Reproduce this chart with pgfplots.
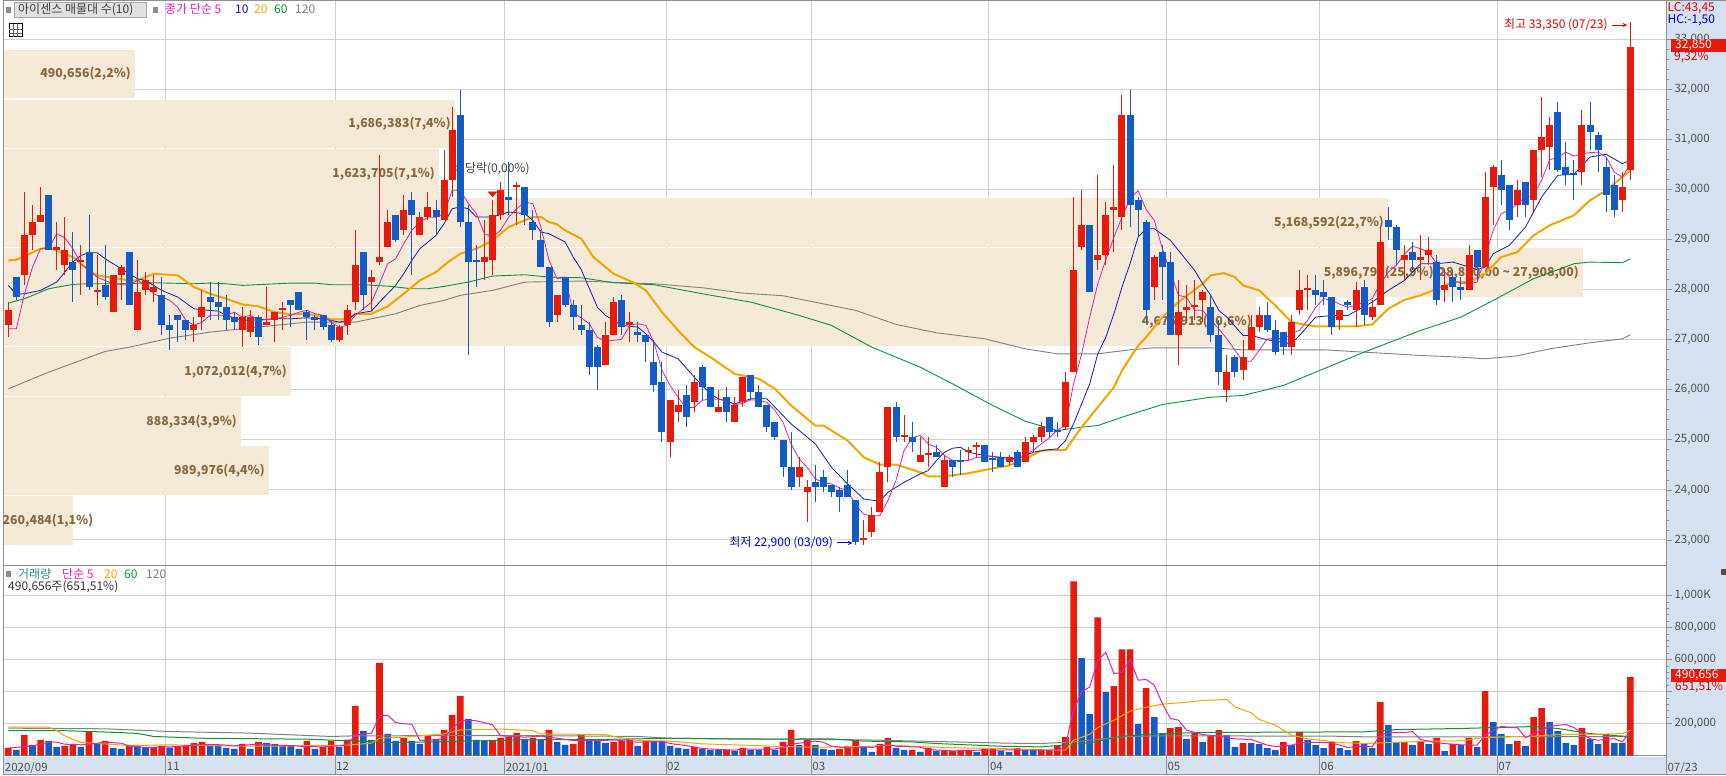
\documentclass[border=0pt]{standalone}
\usepackage{fontspec}
\setmainfont{Noto Sans CJK KR}
\usepackage{pgfplots}
\usepackage{pgfplotstable}
\pgfplotsset{compat=1.18}

\definecolor{upc}{HTML}{E81A0C}
\definecolor{dnc}{HTML}{135CC8}
\definecolor{bandc}{HTML}{F5E9D7}
\definecolor{bandtxt}{HTML}{8A6A3C}
\definecolor{gridc}{HTML}{D2D2D2}
\definecolor{framec}{HTML}{909090}
\definecolor{stripc}{HTML}{D6E1EF}
\definecolor{labc}{HTML}{505050}
\definecolor{ma5}{HTML}{E020B8}
\definecolor{ma10}{HTML}{1020A8}
\definecolor{ma20}{HTML}{F0A800}
\definecolor{ma60}{HTML}{109038}
\definecolor{ma120}{HTML}{808080}
\definecolor{tealc}{HTML}{2A9090}

% candles: index open high low close
\pgfplotstableread{
i o h l c
0 27300 27750 27050 27600
2 28300 29950 28100 29100
3 29100 29700 28800 29350
4 29350 30050 29350 29500
6 28800 29350 28400 28850
7 28500 29450 28300 28800
9 28550 28900 27900 28550
11 27950 28700 27700 28000
13 27550 28300 27550 28300
14 28300 28500 27800 28450
16 27200 28600 27200 27950
17 28000 28350 27900 28200
18 27950 28300 27750 28050
23 27200 27450 26950 27300
24 27450 28000 27200 27650
29 27200 27650 26850 27450
30 27150 27600 27050 27450
32 27300 28050 27300 27350
33 27400 27550 26950 27550
34 27600 27750 27200 27600
41 27000 27300 26950 27250
42 27300 27700 27100 27600
43 27750 29200 27600 28500
45 28150 28400 27600 28250
46 28550 30700 28500 28650
47 28850 29600 28850 29350
49 29200 29900 29100 29600
51 29100 29550 29100 29450
52 29450 29950 29400 29650
54 29400 30800 29400 30200
55 30200 31650 29850 31200
59 28550 29400 28200 28650
60 28600 29800 28300 29500
61 29500 30150 29400 30000
63 30050 30150 29300 30050
68 27500 27900 27350 27900
74 26500 27350 26500 27100
75 27100 27850 27100 27750
77 27300 27550 26950 27350
82 24950 25800 24650 25800
83 25550 26000 25350 25700
85 25750 26300 25550 26150
88 25550 26000 25550 25650
90 25350 25850 25350 25700
91 25750 26250 25650 26250
98 24250 24650 24050 24450
99 23950 24200 23350 24050
106 23000 23400 22900 23000
107 23150 23650 23050 23500
108 23550 24550 23550 24350
109 24450 25650 24150 25650
111 25050 25500 24950 25050
113 24550 25050 24550 24700
114 24700 25050 24450 24700
116 24050 24700 24050 24600
119 24750 24850 24600 24750
120 24850 24950 24650 24850
124 24550 24700 24500 24650
126 24550 25050 24550 24950
127 24950 25100 24750 25050
128 25050 25350 24950 25250
131 25250 26350 25200 26150
132 26350 29850 26350 28400
133 28850 30000 28800 29300
135 28600 30300 28400 28700
136 28700 29750 28500 29500
137 29600 30500 28750 29650
138 29450 31900 29200 31500
142 28050 28700 27800 28650
145 27100 28200 26500 27550
146 27600 28100 27400 27650
147 27650 28200 27400 27650
148 27800 28000 27350 27950
151 26000 26700 25750 26350
153 26400 27000 26200 26650
154 26800 27500 26800 27250
155 27250 27650 27150 27500
159 26850 27500 26700 27350
160 27600 28400 27500 28000
161 28000 28300 27600 28000
165 27400 27600 27200 27600
167 27600 28150 27250 28000
169 27450 27800 27400 27650
170 27700 29250 27700 28950
173 28600 28900 28200 28700
175 28600 29100 28200 28650
176 28700 29050 28500 28800
178 28000 28400 27750 28100
181 28000 28900 28000 28700
183 28450 30350 28450 29850
184 30050 30500 29300 30450
187 29700 30200 29450 30000
189 29800 30800 29550 30800
190 30800 31850 30250 31050
191 30850 31450 30400 31300
195 30350 31600 30100 31300
200 29800 30350 29550 30050
201 30400 33350 30200 32850
}\upcandles

\pgfplotstableread{
i o h l c
1 28250 28250 27800 27850
5 29900 29900 28800 28800
8 28550 29150 27750 28400
10 28750 29500 28000 28050
12 28100 28900 27800 27850
15 28750 28750 27700 27700
19 27900 28250 27100 27300
20 27300 27500 26800 27200
21 27500 27500 26950 27400
22 27400 27400 27000 27200
25 27850 28150 27400 27750
26 27750 28150 27400 27650
27 27650 27900 27200 27400
28 27450 27550 27200 27350
31 27450 27500 26900 27050
35 27800 27800 27250 27700
36 27950 27950 27600 27600
37 27550 27600 27000 27450
38 27450 27500 27200 27400
39 27500 27500 27200 27250
40 27300 27400 26950 27000
44 28750 28750 27600 27900
48 29500 29500 28950 29000
50 29800 29950 28300 29500
53 29600 29800 29100 29450
56 31500 32000 29250 29350
57 29350 29700 26700 28550
58 28550 28900 28050 28550
62 29850 30550 29500 29800
64 30050 30050 29300 29500
65 29350 29600 29000 29200
66 29000 29200 28450 28450
67 28450 28450 27250 27350
69 28250 28250 27650 27700
70 27700 27800 27200 27450
71 27300 27700 27100 27200
72 27200 27350 26300 26450
73 26850 26900 26000 26450
76 27800 27900 27100 27250
78 27150 27350 26950 27100
79 27100 27100 26550 26950
80 26550 27000 25950 26100
81 26150 26550 24950 25150
84 25900 26100 25250 25450
86 26450 26500 25800 26050
87 26050 26050 25650 25650
89 25850 26050 25350 25550
92 26300 26300 25800 25950
93 25950 26100 25650 25650
94 25700 25700 25150 25250
95 25350 25350 25000 25050
96 25000 25000 24250 24450
97 24450 25150 24000 24050
100 24150 24500 23750 24050
101 24250 24400 23950 24050
102 24100 24100 23850 23950
103 24000 24050 23550 23850
104 24100 24400 23850 23850
105 23800 23800 22900 22950
110 25650 25750 24950 25050
112 25050 25350 24750 24950
115 24750 24900 24650 24650
117 24600 24600 24250 24450
118 24600 24800 24300 24550
121 24900 24900 24550 24550
122 24600 24750 24350 24600
123 24650 24750 24450 24450
125 24750 24800 24450 24450
129 25450 25450 25050 25150
130 25150 25350 25050 25150
134 29300 29300 27950 27950
139 31500 32000 29250 29700
140 29800 29850 29050 29600
141 29350 29400 27350 27600
143 28750 28900 27800 28450
144 28550 28750 27100 27100
149 27650 27900 26950 27100
150 27100 27400 26100 26350
152 26650 26700 26250 26350
156 27500 27750 27150 27200
157 27200 27400 26700 26750
158 27150 27150 26700 26850
162 28000 28300 27700 27900
163 27950 28200 27700 27850
164 27850 27850 27100 27250
166 27750 27800 27600 27700
168 28050 28200 27300 27500
171 29400 29650 29000 29250
172 29250 29300 28500 28800
174 28750 28950 28400 28600
177 28550 28700 27700 27800
179 28250 28400 27750 28050
180 28050 28250 27800 28000
182 28800 28800 28200 28450
185 30300 30600 29700 30000
186 30100 30100 29200 29400
188 30150 30150 29450 29700
192 31550 31750 30350 30400
193 30450 30950 30100 30300
194 30300 30600 29800 30300
196 31300 31750 30800 31150
197 31100 31150 30350 30800
198 30450 30650 29550 29900
199 30100 30300 29450 29600
}\dncandles

% volume bars
\pgfplotstableread{
i v
0 48000
2 129000
4 98000
7 60000
8 67000
10 150000
12 92000
15 60000
18 52000
19 60000
21 52000
22 65000
23 79000
24 85000
29 73000
31 85000
37 92000
39 54000
40 92000
42 100000
43 310000
46 579000
49 110000
52 123000
54 160000
55 254000
56 373000
60 98000
61 110000
62 117000
63 142000
65 110000
67 160000
70 73000
71 129000
75 85000
76 92000
77 104000
79 92000
85 54000
89 35000
91 48000
94 54000
96 85000
97 160000
99 98000
103 42000
104 60000
105 98000
108 73000
109 110000
112 35000
114 48000
116 29000
117 27000
118 35000
119 35000
121 42000
122 42000
125 46000
128 33000
129 33000
130 65000
131 115000
132 1089000
135 864000
137 433000
138 664000
139 664000
141 421000
144 171000
145 177000
147 142000
149 123000
150 158000
153 77000
158 83000
160 148000
164 83000
167 90000
170 333000
173 83000
175 83000
177 110000
179 71000
181 110000
183 402000
187 90000
189 240000
190 296000
195 171000
198 133000
201 490656
}\upvol

\pgfplotstableread{
i v
1 35000
3 67000
5 92000
6 54000
9 54000
11 77000
13 48000
14 42000
16 67000
17 46000
20 50000
25 65000
26 65000
27 48000
28 42000
30 42000
32 79000
33 73000
34 65000
35 65000
36 42000
38 42000
41 54000
44 154000
45 98000
47 135000
48 92000
50 92000
51 73000
53 104000
57 229000
58 98000
59 94000
64 104000
66 102000
68 85000
69 67000
72 98000
73 90000
74 79000
78 60000
80 92000
81 90000
82 60000
83 48000
84 42000
86 42000
87 35000
88 35000
90 29000
92 35000
93 35000
95 35000
98 67000
100 67000
101 42000
102 35000
106 54000
107 23000
110 48000
111 35000
113 23000
115 29000
120 23000
123 29000
124 23000
126 35000
127 35000
133 608000
134 258000
136 396000
140 196000
142 240000
143 135000
146 102000
148 83000
151 127000
152 52000
154 77000
155 71000
156 46000
157 33000
159 65000
161 96000
162 65000
163 46000
165 46000
166 33000
168 71000
169 46000
171 190000
172 83000
174 65000
176 71000
178 27000
180 65000
182 52000
184 208000
185 133000
186 71000
188 58000
191 208000
192 152000
193 77000
194 65000
196 102000
197 71000
199 77000
200 77000
}\dnvol

\tikzset{
  bandlab/.style={anchor=east, xshift=-4pt, color=bandtxt, font=\fontsize{12.3}{15}\selectfont\bfseries, inner sep=0pt},
}
\pgfplotsset{
  chartbase/.style={
    scale only axis,
    width=1662.7pt,
    xmin=-0.57, xmax=205.46,
    axis line style={color=framec, line width=1pt},
    clip mode=individual,
    xtick={-0.57,19.5,40.5,61.5,81.5,99.5,121.5,143.5,162.5,184.5,205.46},
    xmajorgrids, ymajorgrids,
    grid style={color=gridc, line width=1pt},
    ytick pos=right, yticklabel pos=right,
    tick align=outside,
    major tick length=6pt, minor tick length=3pt,
    minor y tick num=4,
    y tick style={color=framec, line width=.8pt},
    yticklabel style={color=labc, font=\fontsize{11.5}{14}\selectfont, inner sep=2pt,
      /pgf/number format/1000 sep={,}, /pgf/number format/assume math mode=true},
  },
  % only marks falls back to a default mark, so keep one of size zero
  nomark/.style={only marks, mark=*, mark size=0pt, mark options={draw=none, fill=none}},
  wick/.style={nomark, error bars/y dir=both, error bars/y explicit, error bars/error mark=none, error bars/error bar style={color=#1, line width=1pt}},
  body/.style={nomark, error bars/y dir=plus, error bars/y explicit, error bars/error mark=none, error bars/error bar style={color=#1, line width=7pt}},
}

\begin{document}
\begin{tikzpicture}[x=1pt,y=1pt]
\useasboundingbox (0,0) rectangle (1726,776);
\fill[white] (0,0) rectangle (1726,776);
\fill[stripc] (3.7,1) rectangle (1726,19);
\fill[stripc] (1666.4,1) rectangle (1726,775.5);
\draw[framec, line width=1pt] (3.7,1) -- (1726,1);
\draw[framec, line width=1pt] (3.7,775.5) -- (1726,775.5);

% price pane
\begin{axis}[chartbase,
    at={(3.7pt,210.5pt)}, anchor=south west,
    height=565pt,
    ymin=22490, ymax=33780,
    ytick={23000,24000,25000,26000,27000,28000,29000,30000,31000,32000,33000},
    xticklabels={},
    x tick style={draw=none},
    scaled y ticks=false,
]
% volume profile bands
\addplot[fill=bandc,draw=none] coordinates {(-0.53,31825)(15.7,31825)(15.7,32800)(-0.53,32800)} -- cycle;
\addplot[fill=bandc,draw=none] coordinates {(-0.53,30825)(55.35,30825)(55.35,31800)(-0.53,31800)} -- cycle;
\addplot[fill=bandc,draw=none] coordinates {(-0.53,29835)(53.37,29835)(53.37,30810)(-0.53,30810)} -- cycle;
\addplot[fill=bandc,draw=none] coordinates {(-0.53,28855)(170.97,28855)(170.97,29830)(-0.53,29830)} -- cycle;
\addplot[fill=bandc,draw=none] coordinates {(-0.53,27855)(195.13,27855)(195.13,28830)(-0.53,28830)} -- cycle;
\addplot[fill=bandc,draw=none] coordinates {(-0.53,26875)(154.6,26875)(154.6,27850)(-0.53,27850)} -- cycle;
\addplot[fill=bandc,draw=none] coordinates {(-0.53,25875)(35.03,25875)(35.03,26850)(-0.53,26850)} -- cycle;
\addplot[fill=bandc,draw=none] coordinates {(-0.53,24885)(28.84,24885)(28.84,25860)(-0.53,25860)} -- cycle;
\addplot[fill=bandc,draw=none] coordinates {(-0.53,23895)(32.3,23895)(32.3,24870)(-0.53,24870)} -- cycle;
\addplot[fill=bandc,draw=none] coordinates {(-0.53,22905)(8.02,22905)(8.02,23880)(-0.53,23880)} -- cycle;
\node[bandlab] at (axis cs:15.7,32312) {490,656(2,2\%)};
\node[bandlab] at (axis cs:55.35,31312) {1,686,383(7,4\%)};
\node[bandlab] at (axis cs:53.37,30322) {1,623,705(7,1\%)};
\node[bandlab] at (axis cs:170.97,29342) {5,168,592(22,7\%)};
\node[bandlab] at (axis cs:195.13,28342) {5,896,799(25,9\%)(28,890,00 \textasciitilde{} 27,908,00)};
\node[bandlab] at (axis cs:154.6,27362) {4,675,913(20,6\%)};
\node[bandlab] at (axis cs:35.03,26362) {1,072,012(4,7\%)};
\node[bandlab] at (axis cs:28.84,25372) {888,334(3,9\%)};
\node[bandlab] at (axis cs:32.3,24382) {989,976(4,4\%)};
\node[bandlab, anchor=west, xshift=0pt] at (axis cs:-0.22,23392) {260,484(1,1\%)};
\node[anchor=west, color=black!75, font=\fontsize{12}{14}\selectfont, inner sep=0pt] at (axis cs:55.2,30413) {배당락(0,00\%)};

% moving averages
\addplot[ma120, line width=.9pt] coordinates {(0,26020)(5,26353)(12,26767)(15,26853)(20,27033)(25,27153)(29,27220)(33,27287)(37,27353)(43,27353)(48,27520)(51,27687)(54,27787)(56,27887)(60,27987)(64,28153)(71,28173)(80,28120)(86,28040)(91,27933)(96,27880)(103,27653)(105,27587)(110,27307)(115,27140)(121,27020)(126,26820)(130,26720)(135,26720)(139,26800)(142,26840)(149,26840)(153,26800)(163,26800)(168,26753)(175,26687)(180,26653)(183,26620)(187,26680)(191,26820)(196,26940)(200,27020)(201,27100)};
\addplot[ma60, line width=.9pt] coordinates {(0,27733)(2,27820)(5,28020)(8,28107)(10,28120)(14,28120)(18,28140)(23,28120)(25,28133)(27,28120)(29,28087)(35,28133)(38,28133)(40,28100)(44,28100)(47,28073)(50,28020)(52,28020)(54,28067)(57,28153)(60,28273)(64,28300)(67,28253)(71,28240)(75,28140)(80,28100)(86,27920)(92,27753)(98,27487)(102,27287)(107,26853)(113,26453)(117,26120)(122,25687)(126,25373)(130,25187)(133,25253)(135,25287)(138,25453)(143,25707)(149,25853)(153,25887)(158,26087)(163,26420)(168,26753)(175,27187)(180,27453)(184,27787)(189,28220)(194,28520)(196,28553)(200,28540)(201,28620)};
\addplot[ma20, line width=2pt] coordinates {(0,28587)(1,28600)(4,28820)(5,28840)(7,28720)(8,28653)(10,28387)(11,28287)(15,28187)(16,28187)(17,28253)(18,28320)(21,28287)(23,28053)(25,27920)(27,27820)(29,27707)(31,27667)(33,27553)(35,27507)(37,27520)(39,27453)(40,27407)(42,27407)(43,27520)(45,27520)(47,27667)(49,27920)(51,28187)(53,28353)(54.5,28553)(56,28720)(58,28820)(60,28987)(62,29253)(64,29387)(65,29453)(66,29453)(67,29353)(68,29307)(69,29187)(71,29020)(72.5,28653)(75,28320)(77.5,28140)(79,27987)(81,27553)(83,27187)(85,26853)(87,26653)(90,26320)(93,26220)(95,26020)(97,25687)(100,25287)(101,25287)(104,24987)(106,24653)(108,24507)(110,24507)(113,24353)(114,24273)(116,24273)(119,24333)(121,24400)(124,24487)(126,24620)(128,24787)(131,24800)(133,25253)(135,25653)(137,26053)(138,26387)(140,26880)(141,27053)(143,27453)(145,27753)(148,28120)(149,28287)(150.6,28333)(152,28253)(153,28087)(155,27987)(157,27687)(159,27353)(160,27320)(162,27267)(164,27267)(167,27267)(169,27307)(171,27620)(173,27800)(175,27887)(177,28020)(179,28153)(181,28153)(183,28320)(185,28653)(187,28753)(189,29087)(191,29287)(194,29487)(196,29787)(198,29987)(200,30253)(201,30387)};
\addplot[ma10, line width=.8pt] coordinates {(0,28087)(1,27907)(2,27920)(4,27987)(6,28153)(7,28353)(8,28553)(9,28687)(10,28740)(11,28740)(12,28620)(14,28420)(15,28320)(16,28220)(17,28187)(18,28087)(19,27987)(21,27853)(23,27620)(24,27600)(26,27573)(27,27487)(29,27387)(31,27400)(33,27420)(35,27420)(37,27440)(39,27420)(40,27387)(41,27353)(42,27387)(43,27520)(45,27573)(46,27753)(47,27920)(48,28087)(49,28320)(50,28587)(51,28820)(53,29087)(54,29320)(55,29620)(56,29653)(57,29620)(58,29453)(60,29453)(62,29553)(64,29520)(65,29387)(66,29153)(67,29120)(69,28953)(70,28653)(71,28400)(73,27650)(74,27487)(76,27287)(78,27253)(79,27120)(80,26953)(81,26753)(83,26620)(85,26253)(87,25920)(88,25820)(90,25720)(92,25820)(94,25820)(95,25653)(97,25320)(100,24920)(102,24453)(104,24120)(106,23820)(108,23773)(109,23953)(111,24153)(113,24320)(114,24387)(115,24587)(116,24753)(117,24833)(118,24853)(119,24753)(121,24687)(123,24653)(125,24620)(127,24753)(129,24807)(130,24820)(131,24987)(132,25320)(133,25720)(134,26120)(135,26720)(136,27053)(137,27520)(138,28053)(139,28520)(140,29053)(141,29220)(142,29220)(144,28987)(146,28587)(147,28387)(148,28120)(149,27887)(150,27587)(151,27453)(153,27087)(154,27087)(156,27000)(159,26920)(160,27087)(162,27453)(164,27487)(166,27487)(169,27753)(171,27987)(173,28187)(175,28520)(177,28520)(179,28553)(181,28453)(182,28400)(183,28453)(184,28720)(186,28887)(188,29253)(190,29853)(192,30287)(194,30307)(196,30653)(198,30707)(200,30520)(201,30587)};
\addplot[ma5, line width=.8pt] coordinates {(0,27220)(1,27220)(2,27920)(3,28450)(4,28820)(5,28820)(6,29120)(7,29040)(8,28820)(9,28520)(10,28390)(11,28250)(13,28120)(15,28090)(16,28190)(17,28090)(18,27920)(20,27790)(21,27650)(22,27390)(23,27290)(24,27350)(25,27490)(27,27490)(28,27550)(29,27450)(30,27490)(31,27390)(33,27420)(34,27450)(35,27490)(36,27550)(37,27590)(38,27520)(39,27490)(40,27350)(41,27250)(42,27290)(43,27490)(44,27620)(45,27750)(46,28120)(47,28520)(48,28620)(49,28920)(50,29190)(51,29350)(52,29450)(53,29450)(54,29520)(55,29990)(56,29990)(57,29720)(58,29520)(59,29120)(60,29050)(61,29190)(62,29450)(63,29620)(64,29750)(65,29720)(66,29250)(67,28590)(68,28220)(69,28250)(70,27550)(72,27320)(73,27050)(74,26970)(76,27010)(77,27290)(78,27320)(79,27290)(80,26950)(81,26390)(82,26090)(83,25850)(84,25640)(85,25650)(86,25790)(87,25820)(89,25800)(90,25700)(91,25730)(92,25800)(93,25790)(94,25750)(95,25590)(96,25350)(97,24920)(98,24620)(99,24450)(100,24220)(101,24150)(102,24120)(103,24040)(104,23990)(105,23690)(106,23520)(107,23470)(108,23490)(109,23790)(110,24190)(111,24790)(112,25040)(113,25090)(114,24920)(115,24850)(116,24690)(117,24590)(119,24590)(120,24650)(122,24670)(123,24620)(124,24620)(125,24590)(126,24690)(127,24790)(128,24920)(129,25040)(130,25200)(131,25290)(132,26120)(133,26720)(134,27450)(135,28120)(136,28600)(137,29050)(138,29450)(139,29820)(140,29980)(141,29600)(142,29387)(143,28820)(144,28350)(145,27890)(146,27850)(147,27590)(148,27590)(149,27390)(150,27220)(151,27020)(152,26790)(153,26570)(154,26570)(155,26790)(156,27020)(158,27020)(159,27120)(160,27190)(161,27390)(162,27650)(163,27820)(164,27790)(165,27710)(166,27650)(167,27690)(168,27750)(169,27820)(170,28120)(171,28350)(172,28490)(173,28710)(174,28870)(175,28820)(176,28750)(177,28520)(178,28350)(179,28190)(180,28130)(181,28130)(182,28150)(183,28650)(184,29190)(185,29520)(186,29590)(187,29720)(188,29850)(189,29890)(190,30190)(191,30600)(192,30640)(193,30750)(194,30670)(195,30720)(196,30740)(197,30750)(198,30650)(199,30350)(200,30250)(201,30520)};

% candles
\addplot[wick=upc] table[x=i, y=o, y error plus expr={\thisrow{h}-\thisrow{o}}, y error minus expr={\thisrow{o}-\thisrow{l}}] {\upcandles};
\addplot[wick=dnc] table[x=i, y=c, y error plus expr={\thisrow{h}-\thisrow{c}}, y error minus expr={\thisrow{c}-\thisrow{l}}] {\dncandles};
\addplot[body=upc] table[x=i, y=o, y error plus expr={max(\thisrow{c}-\thisrow{o},40)}] {\upcandles};
\addplot[body=dnc] table[x=i, y=c, y error plus expr={max(\thisrow{o}-\thisrow{c},40)}] {\dncandles};

% ex-dividend marker and high/low notes
\addplot[only marks, mark=triangle*, mark size=5pt, mark options={fill=upc, draw=upc, rotate=180, yscale=.7}] coordinates {(60,29923)};
\node[anchor=east, color=red!90!black, font=\fontsize{12}{14}\selectfont, inner sep=0pt] at (axis cs:198.2,33290) {최고 33,350 (07/23)};
\draw[-stealth, color=red!90!black, line width=1pt] (axis cs:198.7,33290) -- (axis cs:200.6,33290);
\node[anchor=east, color=blue!90!black, font=\fontsize{12}{14}\selectfont, inner sep=0pt] at (axis cs:102.2,22940) {최저 22,900 (03/09)};
\draw[-stealth, color=blue!90!black, line width=1pt] (axis cs:102.7,22940) -- (axis cs:104.6,22940);
\end{axis}

% volume pane
\begin{axis}[chartbase,
    at={(3.7pt,20pt)}, anchor=south west,
    height=190.5pt,
    ymin=-3000, ymax=1187500,
    ytick={200000,400000,600000,800000,1000000},
    yticklabels={{200,000},{},{600,000},{800,000},{1,000K}},
    scaled y ticks=false,
    xticklabels={2020/09,11,12,2021/01,02,03,04,05,06,07,07/23},
    x tick style={color=framec, line width=1pt, /pgfplots/major tick length=19pt},
    xtick pos=bottom,
    xticklabel style={anchor=north west, color=labc, font=\fontsize{11.5}{14}\selectfont, inner sep=1pt, yshift=1pt},
]
\addplot[ybar, bar width=6.6pt, bar shift=0pt, fill=upc, draw=none] table[x=i, y=v] {\upvol};
\addplot[ybar, bar width=6.6pt, bar shift=0pt, fill=dnc, draw=none] table[x=i, y=v] {\dnvol};
\addplot[ma120, line width=1pt] coordinates {(0,171000)(12,167000)(20,150000)(30,140000)(40,119000)(43,123000)(64,125000)(78,119000)(82,108000)(106,98000)(124,77000)(128,75000)(132,85000)(138,117000)(142,123000)(164,121000)(168,117000)(176,117000)(183,117000)(201,119000)};
\addplot[ma60, line width=1pt] coordinates {(0,156000)(6.5,156000)(12.5,146000)(16,138000)(18,119000)(24,108000)(37,102000)(48,81000)(54,87000)(64,98000)(76,102000)(82,108000)(91,102000)(102,104000)(106,90000)(112,85000)(115,75000)(123,58000)(128,54000)(134,79000)(138,121000)(142,135000)(148,144000)(168,148000)(172,162000)(180,169000)(189,181000)(192,169000)(196,137000)(200,121000)(201,117000)};
\addplot[ma20, line width=1pt] coordinates {(0,177000)(5,177000)(6,156000)(7,123000)(9,81000)(12.5,71000)(15,62000)(20,67000)(24,62000)(32,58000)(42,65000)(45,77000)(46,108000)(49,115000)(54,135000)(56,160000)(61,165000)(65,156000)(66,135000)(74,131000)(75,119000)(78,94000)(82,90000)(86,73000)(91,65000)(96,56000)(100,52000)(106,56000)(109,65000)(116,50000)(124,42000)(129,35000)(131,33000)(132,96000)(134,133000)(135,175000)(137,221000)(139,277000)(141,302000)(143,321000)(146,333000)(148,344000)(151,350000)(152,304000)(154,267000)(155,225000)(157,190000)(159,127000)(161,104000)(163,94000)(165,81000)(168,75000)(176,90000)(180,92000)(183,112000)(186,117000)(189,121000)(192,131000)(197,133000)(200,137000)(201,158000)};
\addplot[ma5, line width=1pt] coordinates {(0,46000)(2,56000)(3,60000)(5,83000)(6,83000)(7,71000)(9,67000)(10,71000)(12,83000)(14,77000)(15,60000)(17,50000)(20,54000)(22,60000)(24,69000)(26.5,67000)(28,60000)(31,71000)(33,65000)(35,62000)(37,56000)(39,54000)(41,60000)(42,67000)(43,129000)(45,140000)(46,248000)(47,252000)(48,206000)(49,198000)(50,196000)(51,94000)(53,98000)(54,108000)(55,171000)(56,212000)(57,221000)(58,217000)(60,192000)(61,123000)(64,115000)(66,121000)(68,108000)(70,94000)(74,94000)(75,98000)(78,83000)(81,88000)(82,75000)(84,62000)(86,44000)(90,33000)(91,40000)(95,40000)(96,52000)(97,69000)(98,77000)(100,90000)(101,83000)(102,58000)(104,46000)(106,54000)(107,50000)(109,69000)(110,58000)(113,52000)(114,37000)(117,29000)(120,33000)(122,33000)(124,35000)(130,33000)(131,54000)(131.5,179000)(132,283000)(133,398000)(134,429000)(135,596000)(136,644000)(137,512000)(138,519000)(139,600000)(140,471000)(141,475000)(142,440000)(143,325000)(144,231000)(145,221000)(146,158000)(148,131000)(150,121000)(152,104000)(154,100000)(156,65000)(157,56000)(159,65000)(160,79000)(162,83000)(164,79000)(166,50000)(168,60000)(169,54000)(170,127000)(171,142000)(173,144000)(174,150000)(175,100000)(177,79000)(180,67000)(182,65000)(183,127000)(185,183000)(186,175000)(187,175000)(188,112000)(190,158000)(191,183000)(193,194000)(194,175000)(196,104000)(197,96000)(199,106000)(200,85000)(201,154000)};
\end{axis}

% pane captions
\begin{scope}[every node/.style={anchor=west, inner sep=0pt, font=\fontsize{12}{14}\selectfont}]
\fill[black!45] (6,763) rectangle (11,769);
\filldraw[fill=black!12, draw=black!35] (14,759) rectangle (146,774);
\node[color=black!75] at (18,766.5) {아이센스 매물대 수(10)};
\fill[black!45] (153,763) rectangle (158,769);
\node[color=ma5] at (165,766.5) {종가 단순 5};
\node[color=ma10] at (235,766.5) {10};
\node[color=ma20] at (254,766.5) {20};
\node[color=ma60] at (274,766.5) {60};
\node[color=ma120] at (295,766.5) {120};
\filldraw[fill=white, draw=black, line width=1pt] (9,739) rectangle (22,752);
\draw[black!60, line width=.6pt] (9,743) -- (22,743) (9,747) -- (22,747) (13,739) -- (13,752) (17.5,739) -- (17.5,752);
\fill[black!45] (6,199) rectangle (11,205);
\node[color=tealc] at (18,202) {거래량};
\node[color=ma5] at (62,202) {단순 5};
\node[color=ma20] at (104,202) {20};
\node[color=ma60] at (124,202) {60};
\node[color=ma120] at (146,202) {120};
\node[color=black!80] at (8,189) {490,656주(651,51\%)};
% right side readouts
\node[color=red!90!black] at (1667.5,768) {LC:43,45};
\node[color=blue!80!black] at (1667.5,756) {HC:-1,50};
\fill[upc] (1671.4,724) rectangle (1726,737);
\node[color=white] at (1675,730.5) {32,850};
\node[color=red!90!black] at (1674,719) {9,32\%};
\fill[upc] (1670.8,94) rectangle (1726,107);
\node[color=white] at (1675,100.5) {490,656};
\node[color=red!90!black] at (1675,88.5) {651,51\%};
\fill[black!70] (1721,201) rectangle (1726,207);
\end{scope}
\end{tikzpicture}
\end{document}
